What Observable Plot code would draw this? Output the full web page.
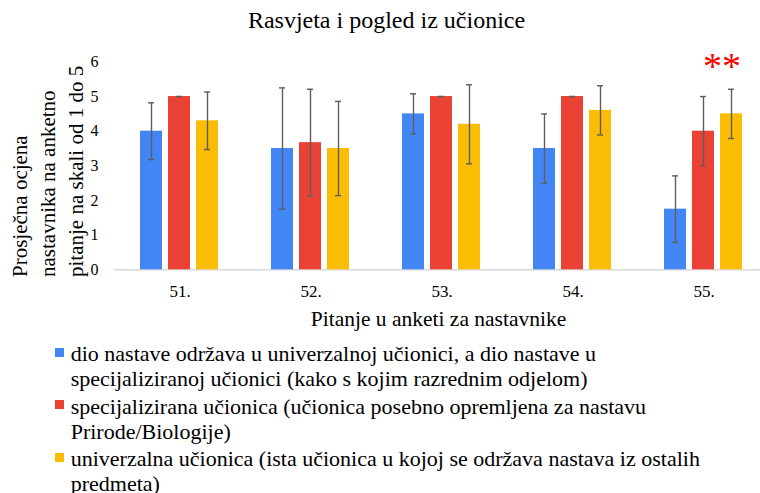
<!DOCTYPE html>
<html>
<head>
<meta charset="utf-8">
<script src="https://cdn.jsdelivr.net/npm/d3@7"></script>
<script src="https://cdn.jsdelivr.net/npm/@observablehq/plot@0.6"></script>
<style>
  html, body { margin: 0; padding: 0; background: #fff; }
  body { width: 760px; height: 493px; overflow: hidden; color: #000; }
  body, body * { font-family: "Liberation Serif", "Times New Roman", serif !important; }
  svg text { font-family: "Liberation Serif", "Times New Roman", serif !important; }
  #title { height: 38px; line-height: 38px; font-size: 24px; text-align: center; padding-left: 13px; padding-top: 1px; box-sizing: border-box; white-space: nowrap; }
  #chart svg { display: block; }
  #legend { padding-top: 3px; }
  .item { position: relative; padding-left: 70.7px; font-size: 22px; line-height: 25px; margin-bottom: 2.5px; white-space: nowrap; }
  .sw { position: absolute; left: 55px; top: 6.5px; width: 9px; height: 9px; }
</style>
</head>
<body>
<div id="title"></div>
<div id="chart"></div>
<div id="legend"></div>
<script>
const title = "Rasvjeta i pogled iz učionice";
const yTitleLines = ["Prosječna ocjena", "nastavnika na anketno", "pitanje na skali od 1 do 5"];
const xTitle = "Pitanje u anketi za nastavnike";
const questions = ["51.", "52.", "53.", "54.", "55."];
const seriesNames = [
  "dio nastave održava u univerzalnoj učionici, a dio nastave u specijaliziranoj učionici (kako s kojim razrednim odjelom)",
  "specijalizirana učionica (učionica posebno opremljena za nastavu Prirode/Biologije)",
  "univerzalna učionica (ista učionica u kojoj se održava nastava iz ostalih predmeta)"
];
const legendLines = [
  ["dio nastave održava u univerzalnoj učionici, a dio nastave u", "specijaliziranoj učionici (kako s kojim razrednim odjelom)"],
  ["specijalizirana učionica (učionica posebno opremljena za nastavu", "Prirode/Biologije)"],
  ["univerzalna učionica (ista učionica u kojoj se održava nastava iz ostalih", "predmeta)"]
];
const colors = ["#4285F4", "#EA4335", "#FBBC04"];
const yTicks = [0, 1, 2, 3, 4, 5, 6];

const blueMean   = [4.0, 3.5, 4.5, 3.5, 1.75];
const blueErr    = [0.82, 1.75, 0.58, 1.0, 0.96];
const redMean    = [5.0, 3.67, 5.0, 5.0, 4.0];
const redErr     = [0, 1.54, 0, 0, 1.0];
const yellowMean = [4.3, 3.5, 4.2, 4.6, 4.5];
const yellowErr  = [0.83, 1.36, 1.14, 0.71, 0.71];

const starQuestion = "55.";
const starText = "**";

const means = [blueMean, redMean, yellowMean];
const errs = [blueErr, redErr, yellowErr];
const data = [];
questions.forEach((q, i) => {
  seriesNames.forEach((s, k) => {
    data.push({q, s, v: means[k][i], lo: means[k][i] - errs[k][i], hi: means[k][i] + errs[k][i]});
  });
});
const stars = data.filter(d => d.q === starQuestion && d.s === seriesNames[2]).map(d => ({...d, t: starText}));

document.getElementById("title").textContent = title;

const serif = "'Liberation Serif', 'Times New Roman', serif";
const chart = Plot.plot({
  width: 760,
  height: 300,
  marginTop: 23.4,
  marginBottom: 68.7,
  marginLeft: 112,
  marginRight: 0,
  style: {fontFamily: serif, fontSize: "16px", color: "#000", background: "#fff"},
  fx: {domain: questions, range: [112, 770.6], paddingInner: 0, paddingOuter: 0, label: null, axis: null},
  x: {domain: seriesNames, paddingInner: 0.207, paddingOuter: 0.875, axis: null},
  y: {domain: [0, 6], label: null, axis: null},
  color: {domain: seriesNames, range: colors},
  marks: [
    Plot.axisY({ticks: yTicks, tickFormat: d => String(d), tickSize: 0, tickPadding: 16, label: null, fontSize: 16}),
    Plot.axisFx({anchor: "bottom", tickSize: 0, tickPadding: 15, label: null, fontSize: 17}),
    Plot.ruleY([0], {stroke: "#d9d9d9", strokeWidth: 1.5}),
    Plot.barY(data, {fx: "q", x: "s", y: "v", fill: "s"}),
    Plot.ruleX(data, {fx: "q", x: "s", y1: "lo", y2: "hi", stroke: "#5e5e5e", strokeWidth: 1.4}),
    Plot.tickY(data, {fx: "q", x: "s", y: "hi", stroke: "#5e5e5e", strokeWidth: 1.4, insetLeft: 8, insetRight: 8}),
    Plot.tickY(data, {fx: "q", x: "s", y: "lo", stroke: "#5e5e5e", strokeWidth: 1.4, insetLeft: 8, insetRight: 8}),
    Plot.text(stars, {fx: "q", x: "s", y: "hi", text: "t", fill: "#ff0000", fontSize: 38, dx: -9.5, dy: -22.4})
  ]
});
document.getElementById("chart").appendChild(chart);

const svg = d3.select(chart);
svg.append("text")
  .attr("x", 438.5).attr("y", 288)
  .attr("text-anchor", "middle")
  .attr("font-size", 21.5)
  .attr("fill", "#000")
  .text(xTitle);
const yt = svg.append("g").attr("font-size", 21).attr("fill", "#000");
const yCols = [20, 48, 76];
yTitleLines.forEach((line, i) => {
  yt.append("text")
    .attr("transform", `translate(${yCols[i]},239) rotate(-90)`)
    .attr("text-anchor", "start")
    .attr("dy", "0.35em")
    .text(line);
});

const legend = d3.select("#legend");
seriesNames.forEach((s, k) => {
  const it = legend.append("div").attr("class", "item");
  it.append("span").attr("class", "sw").style("background", colors[k]);
  it.append("span").html(legendLines[k].map(l => l.replace(/&/g, "&amp;").replace(/</g, "&lt;")).join("<br>"));
});
</script>
</body>
</html>
